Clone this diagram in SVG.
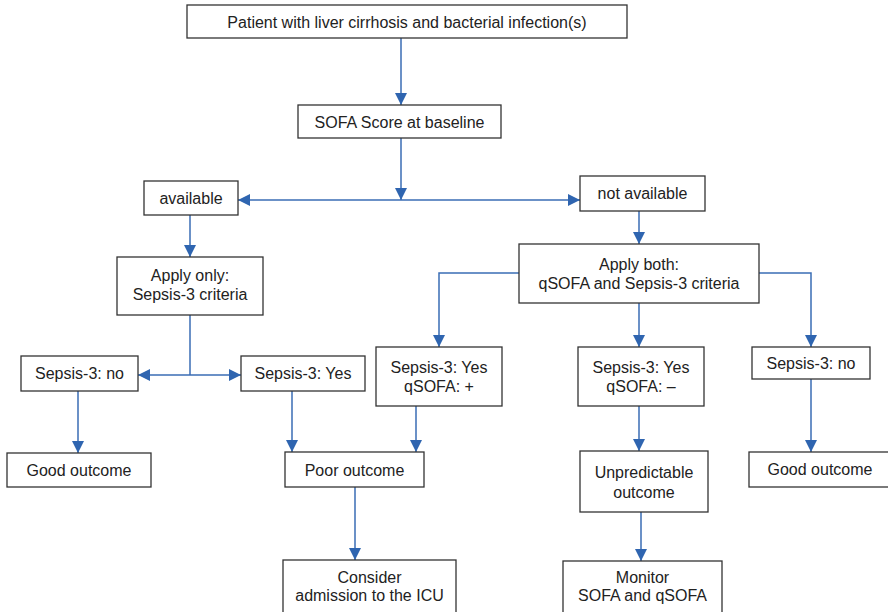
<svg xmlns="http://www.w3.org/2000/svg" width="888" height="612" viewBox="0 0 888 612">
<style>
.box{fill:#fff;stroke:#333;stroke-width:1.3}
.t{font-family:"Liberation Sans",Arial,sans-serif;font-size:16px;fill:#222;text-anchor:middle}
.c{fill:none;stroke:#3a6db5;stroke-width:1.5}
</style>
<defs>
<marker id="ah" markerUnits="userSpaceOnUse" markerWidth="12" markerHeight="12" viewBox="0 0 12 12" refX="12" refY="6" orient="auto-start-reverse">
<path d="M0,0 L12,6 L0,12 z" fill="#2f65b0"/>
</marker>
</defs>
<rect width="888" height="612" fill="#fff"/>
<g id="connectors">
<path class="c" d="M401,38 V105" marker-end="url(#ah)"/>
<path class="c" d="M401,138 V200" marker-end="url(#ah)"/>
<path class="c" d="M238,200 H580" marker-start="url(#ah)" marker-end="url(#ah)"/>
<path class="c" d="M190,215 V257" marker-end="url(#ah)"/>
<path class="c" d="M190,315 V375"/>
<path class="c" d="M190,375 H138" marker-end="url(#ah)"/>
<path class="c" d="M190,375 H241" marker-end="url(#ah)"/>
<path class="c" d="M78,391 V453" marker-end="url(#ah)"/>
<path class="c" d="M292,391 V452" marker-end="url(#ah)"/>
<path class="c" d="M416,406 V452" marker-end="url(#ah)"/>
<path class="c" d="M355,487 V560" marker-end="url(#ah)"/>
<path class="c" d="M639,211 V244" marker-end="url(#ah)"/>
<path class="c" d="M519,273 H439 V347" marker-end="url(#ah)"/>
<path class="c" d="M639,303 V347" marker-end="url(#ah)"/>
<path class="c" d="M759,273 H811 V347" marker-end="url(#ah)"/>
<path class="c" d="M639,406 V451" marker-end="url(#ah)"/>
<path class="c" d="M811,379 V452" marker-end="url(#ah)"/>
<path class="c" d="M641,512 V561" marker-end="url(#ah)"/>
</g>
<g id="patient"><rect class="box" x="187" y="5" width="440" height="33"/><text class="t" x="407" y="27.5">Patient with liver cirrhosis and bacterial infection(s)</text></g>
<g id="sofa"><rect class="box" x="298" y="105" width="203" height="33"/><text class="t" x="399.5" y="127.5">SOFA Score at baseline</text></g>
<g id="available"><rect class="box" x="144" y="181" width="94" height="34"/><text class="t" x="191" y="203.5">available</text></g>
<g id="notavailable"><rect class="box" x="580" y="176" width="125" height="35"/><text class="t" x="642.5" y="199">not available</text></g>
<g id="applyonly"><rect class="box" x="117" y="257" width="146" height="58"/><text class="t" x="190" y="280.5">Apply only:</text><text class="t" x="190" y="299.5">Sepsis-3 criteria</text></g>
<g id="applyboth"><rect class="box" x="519" y="244" width="240" height="59"/><text class="t" x="639" y="269.5">Apply both:</text><text class="t" x="639" y="288.5">qSOFA and Sepsis-3 criteria</text></g>
<g id="sepsisno-left"><rect class="box" x="21" y="356" width="117" height="35"/><text class="t" x="79.5" y="379">Sepsis-3: no</text></g>
<g id="sepsisyes-left"><rect class="box" x="241" y="356" width="124" height="35"/><text class="t" x="303" y="379">Sepsis-3: Yes</text></g>
<g id="sepsisyes-qplus"><rect class="box" x="376" y="347" width="126" height="59"/><text class="t" x="439" y="373">Sepsis-3: Yes</text><text class="t" x="439" y="392">qSOFA: +</text></g>
<g id="sepsisyes-qminus"><rect class="box" x="578" y="347" width="126" height="59"/><text class="t" x="641" y="373">Sepsis-3: Yes</text><text class="t" x="641" y="392">qSOFA: –</text></g>
<g id="sepsisno-right"><rect class="box" x="752" y="347" width="118" height="32"/><text class="t" x="811" y="368.5">Sepsis-3: no</text></g>
<g id="good-left"><rect class="box" x="7" y="453" width="144" height="34"/><text class="t" x="79" y="475.5">Good outcome</text></g>
<g id="poor"><rect class="box" x="285" y="452" width="139" height="35"/><text class="t" x="354.5" y="475.5">Poor outcome</text></g>
<g id="unpredictable"><rect class="box" x="580" y="451" width="128" height="61"/><text class="t" x="644" y="477.5">Unpredictable</text><text class="t" x="644" y="497.5">outcome</text></g>
<g id="good-right"><rect class="box" x="749" y="452" width="140" height="35"/><text class="t" x="820" y="475">Good outcome</text></g>
<g id="icu"><rect class="box" x="283" y="560" width="173" height="60"/><text class="t" x="369.5" y="582.5">Consider</text><text class="t" x="369.5" y="601">admission to the ICU</text></g>
<g id="monitor"><rect class="box" x="563" y="561" width="159" height="60"/><text class="t" x="642.5" y="582.5">Monitor</text><text class="t" x="642.5" y="601">SOFA and qSOFA</text></g>
</svg>
